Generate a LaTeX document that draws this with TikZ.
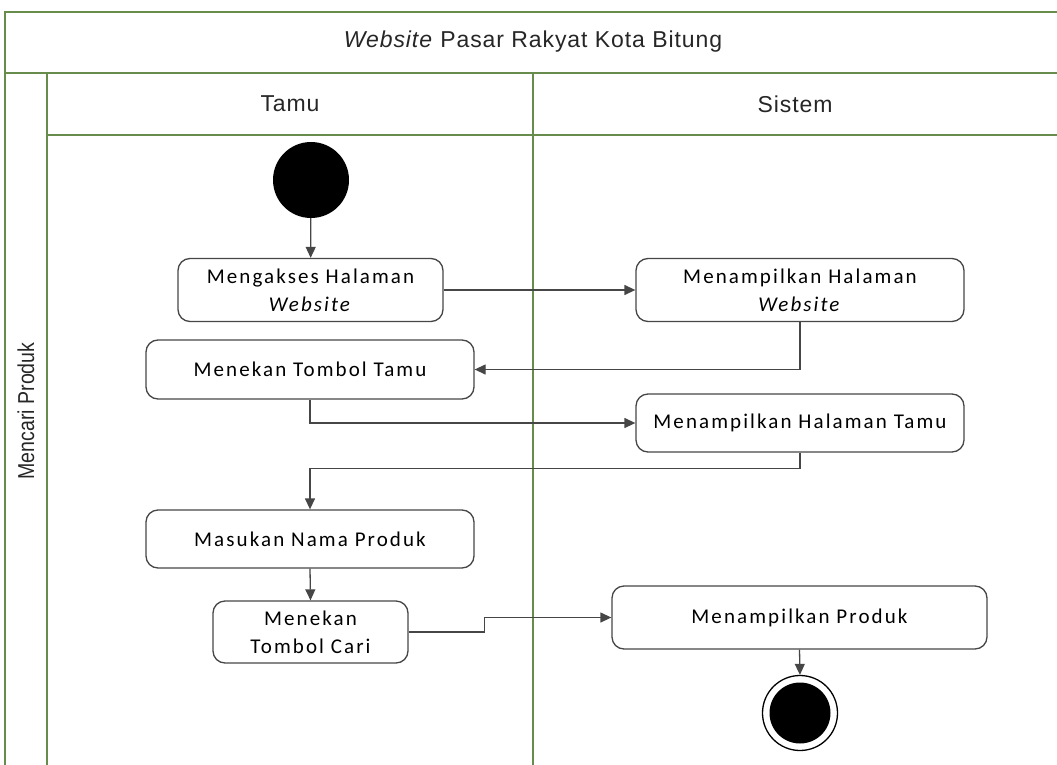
\documentclass[tikz,border=0pt]{standalone}
\usepackage{fontspec}
\setmainfont{Carlito}
\newfontfamily\boxfont[LetterSpace=10]{Carlito}
\newfontfamily\headfont[LetterSpace=4]{Liberation Sans}
\newfontfamily\narrowfont[FakeStretch=0.85]{Liberation Sans}
\usetikzlibrary{arrows.meta}
\definecolor{lanegreen}{RGB}{104,140,76}
\definecolor{edgegray}{RGB}{70,70,70}
\begin{document}
\begin{tikzpicture}[x=1pt,y=-1pt,
  lane/.style={draw=lanegreen,line width=1.4pt},
  lbl/.style={font=\headfont\fontsize{23}{26}\selectfont,inner sep=0pt,text=black!85},
  act/.style={draw=edgegray,line width=1.3pt,rounded corners=12pt,align=center,
    font=\boxfont\fontsize{21}{28}\selectfont,inner sep=0pt},
  flow/.style={draw=edgegray,line width=1.3pt,-{Triangle[length=11pt,width=10pt]}},
]
\useasboundingbox (0,0) rectangle (1057,765);
% swimlane frame
\draw[lane] (5,12) rectangle (1070,800);
\draw[lane] (5,73) -- (1070,73);
\draw[lane] (47,73) -- (47,800);
\draw[lane] (47,135) -- (1070,135);
\draw[lane] (533,73) -- (533,800);
\node[lbl] (title) at (533,42) {\textit{Website} Pasar Rakyat Kota Bitung};
\node[lbl] (tamu) at (290,104) {Tamu};
\node[lbl] (sistem) at (795,104) {Sistem};
\node[lbl,font=\narrowfont\fontsize{23}{26}\selectfont,rotate=90] (lanelbl) at (26,411) {Mencari Produk};
% nodes
\node[circle,fill=black,minimum size=76pt,inner sep=0pt] (start) at (311,180) {};
\node[act,minimum width=265pt,minimum height=63pt] (a1) at (310.5,290) {Mengakses Halaman\\\textit{Website}};
\node[act,minimum width=328pt,minimum height=63pt] (a2) at (800,290) {Menampilkan Halaman\\\textit{Website}};
\node[act,minimum width=328pt,minimum height=59pt] (a3) at (310,369.5) {Menekan Tombol Tamu};
\node[act,minimum width=328pt,minimum height=58pt] (a4) at (800,423) {Menampilkan Halaman Tamu};
\node[act,minimum width=328pt,minimum height=58pt] (a5) at (310,539) {Masukan Nama Produk};
\node[act,minimum width=195pt,minimum height=62pt] (a6) at (310.5,632) {Menekan\\Tombol Cari};
\node[act,minimum width=375pt,minimum height=63pt] (a7) at (799.5,617.5) {Menampilkan Produk};
\node[circle,draw=black,line width=1.3pt,minimum size=75pt,inner sep=0pt] (end) at (800,713) {};
\node[circle,fill=black,minimum size=61pt,inner sep=0pt] (endin) at (end.center) {};
% flows
\draw[flow] (start) -- (a1);
\draw[flow] (a1.east) -- (a2.west);
\draw[flow] (a2.south) |- (a3.east);
\draw[flow] (a3.south) |- (a4.west);
\draw[flow] (a4.south) -- ++(0,16) -| (a5.north);
\draw[flow] (a5.south) -- (a6.north);
\draw[flow] (a6.east) -- ++(76,0) |- (a7.west);
\draw[flow] (a7.south) -- (end.north);
\end{tikzpicture}
\end{document}
